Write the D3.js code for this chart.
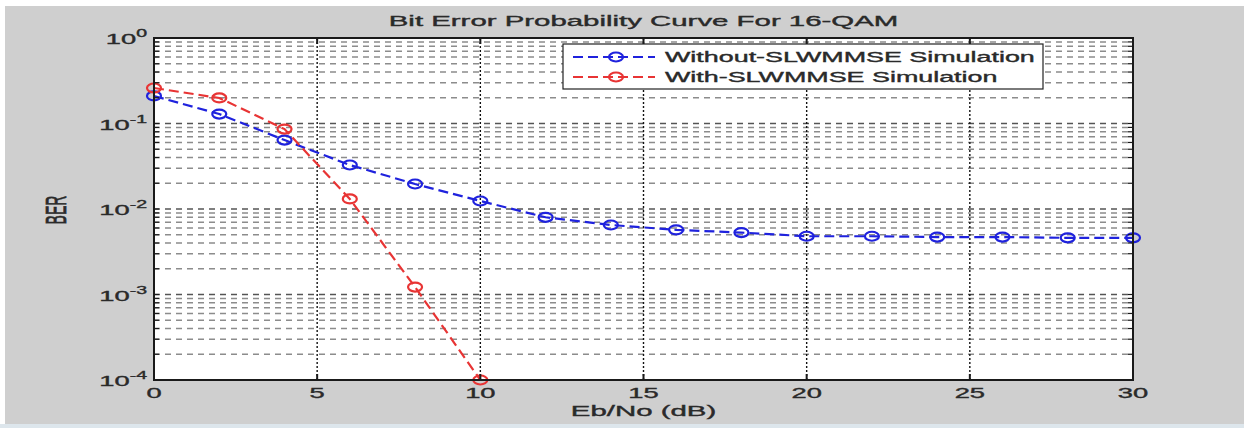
<!DOCTYPE html>
<html>
<head>
<meta charset="utf-8">
<script src="https://cdn.jsdelivr.net/npm/d3@7"></script>
<style>
	body { margin: 0; background: #fff; }
	text { font-family: "Liberation Sans", Arial, sans-serif; fill: #2a2a2a; stroke: #2a2a2a; stroke-width: 0.35; }
</style>
</head>
<body>
<svg id="chart" width="1244" height="428"></svg>
<script>
/*=================================
	DATA
**===============================*/

var snrDb = [0, 2, 4, 6, 8, 10, 12, 14, 16, 18, 20, 22, 24, 26, 28, 30];
var berWithout = [0.21, 0.129, 0.064, 0.0327, 0.0196, 0.0124, 0.0080, 0.0065,
	0.0057, 0.0053, 0.0048, 0.0048, 0.0047, 0.0047, 0.0046, 0.0046];
var snrWith = [0, 2, 4, 6, 8, 10];
var berWith = [0.26, 0.199, 0.086, 0.0131, 0.00122, 0.0001];

var xTicks = [0, 5, 10, 15, 20, 25, 30];
var yDecades = [0, -1, -2, -3, -4];
var seriesNames = ["Without-SLWMMSE Simulation", "With-SLWMMSE Simulation"];
var seriesColors = ["#1f22dd", "#e83434"];
var titleText = "Bit Error Probability Curve For 16-QAM";

/*=================================
	LAYOUT
**===============================*/

var W = 1244, H = 428;
var plot = {left: 154, right: 1133, top: 38, bottom: 380};
var SX = 2.1; // the picture is stretched sideways, text too
var SX_LEG = 1.92;

var svg = d3.select("#chart");

var x = d3.scaleLinear().domain([0, 30]).range([plot.left, plot.right]);
var y = d3.scaleLog().domain([1e-4, 1]).range([plot.bottom, plot.top]);

//Figure background
svg.append("rect").attr("x", 5).attr("y", 6).attr("width", W - 5).attr("height", 418).attr("fill", "#cfcfcf");
svg.append("rect").attr("x", 0).attr("y", 424).attr("width", W).attr("height", 4).attr("fill", "#dde6ec");

//Axes area
svg.append("rect")
	.attr("x", plot.left).attr("y", plot.top)
	.attr("width", plot.right - plot.left).attr("height", plot.bottom - plot.top)
	.attr("fill", "#fff");

/*=================================
	GRID
**===============================*/

var minorVals = [];
yDecades.slice(0, -1).forEach(function(d) {
	for (var k = 2; k <= 9; k++) minorVals.push(k * Math.pow(10, d - 1));
});
var majorVals = yDecades.slice(1, -1).map(function(d) { return Math.pow(10, d); });

var grid = svg.append("g");

grid.selectAll(".minor").data(minorVals).enter().append("line")
	.attr("x1", plot.left).attr("x2", plot.right)
	.attr("y1", function(d) { return y(d); }).attr("y2", function(d) { return y(d); })
	.attr("stroke", "#8c8c8c").attr("stroke-width", 1.5)
	.attr("stroke-dasharray", "6,5");

grid.selectAll(".major").data(majorVals).enter().append("line")
	.attr("x1", plot.left).attr("x2", plot.right)
	.attr("y1", function(d) { return y(d); }).attr("y2", function(d) { return y(d); })
	.attr("stroke", "#555").attr("stroke-width", 1.5)
	.attr("stroke-dasharray", "6,5");

grid.selectAll(".vgrid").data(xTicks.slice(1, -1)).enter().append("line")
	.attr("x1", function(d) { return x(d); }).attr("x2", function(d) { return x(d); })
	.attr("y1", plot.top).attr("y2", plot.bottom)
	.attr("stroke", "#111").attr("stroke-width", 1.4)
	.attr("stroke-dasharray", "2,2");

/*=================================
	SERIES
**===============================*/

function drawSeries(xs, ys, color) {
	var pts = xs.map(function(v, i) { return [x(v), y(ys[i])]; });
	var g = svg.append("g");
	g.append("path")
		.attr("d", d3.line()(pts))
		.attr("fill", "none")
		.attr("stroke", color).attr("stroke-width", 2.2)
		.attr("stroke-dasharray", "10,5");
	g.selectAll("ellipse").data(pts).enter().append("ellipse")
		.attr("cx", function(p) { return p[0]; }).attr("cy", function(p) { return p[1]; })
		.attr("rx", 7).attr("ry", 4.5)
		.attr("fill", "none").attr("stroke", color).attr("stroke-width", 2.2);
}

drawSeries(snrDb, berWithout, seriesColors[0]);
drawSeries(snrWith, berWith, seriesColors[1]);

/*=================================
	AXES FRAME + TICKS
**===============================*/

var frame = svg.append("g").attr("stroke", "#1a1a1a");

//inner ticks left/right for every log tick
minorVals.concat(majorVals).forEach(function(v) {
	frame.append("line").attr("x1", plot.left).attr("x2", plot.left + 5)
		.attr("y1", y(v)).attr("y2", y(v)).attr("stroke-width", 1.2);
	frame.append("line").attr("x1", plot.right).attr("x2", plot.right - 5)
		.attr("y1", y(v)).attr("y2", y(v)).attr("stroke-width", 1.2);
});
xTicks.forEach(function(v) {
	frame.append("line").attr("x1", x(v)).attr("x2", x(v))
		.attr("y1", plot.bottom).attr("y2", plot.bottom - 6).attr("stroke-width", 2);
	frame.append("line").attr("x1", x(v)).attr("x2", x(v))
		.attr("y1", plot.top).attr("y2", plot.top + 6).attr("stroke-width", 2);
});

frame.append("rect")
	.attr("x", plot.left).attr("y", plot.top)
	.attr("width", plot.right - plot.left).attr("height", plot.bottom - plot.top)
	.attr("fill", "none").attr("stroke-width", 2);

/*=================================
	TEXT
**===============================*/

function stretchText(px, py, anchor, size, sx) {
	return svg.append("text")
		.attr("transform", "translate(" + px + "," + py + ") scale(" + (sx || SX) + ",1)")
		.attr("text-anchor", anchor)
		.attr("font-size", size);
}

//x tick labels
xTicks.forEach(function(v) {
	stretchText(x(v), 398, "middle", 14, 1.95).text(v);
});

//y tick labels as 10^n
yDecades.forEach(function(d) {
	var t = stretchText(147, y(Math.pow(10, d)) + 6, "end", 14, 1.95);
	t.append("tspan").text("10");
	t.append("tspan").attr("dy", -7).attr("font-size", 10).text(d);
});

//titles
stretchText((plot.left + plot.right) / 2, 26, "middle", 14).text(titleText);
stretchText((plot.left + plot.right) / 2, 416, "middle", 14).text("Eb/No (dB)");
svg.append("text")
	.attr("transform", "translate(66,210) scale(" + SX + ",1) rotate(-90)")
	.attr("text-anchor", "middle").attr("font-size", 14)
	.text("BER");

/*=================================
	LEGEND
**===============================*/

var legend = svg.append("g");
legend.append("rect")
	.attr("x", 563).attr("y", 44).attr("width", 480).attr("height", 45)
	.attr("fill", "#fff").attr("stroke", "#222").attr("stroke-width", 1.2);

seriesNames.forEach(function(name, i) {
	var ly = 57 + i * 20;
	legend.append("line")
		.attr("x1", 573).attr("x2", 655).attr("y1", ly).attr("y2", ly)
		.attr("stroke", seriesColors[i]).attr("stroke-width", 2.2)
		.attr("stroke-dasharray", "10,5");
	legend.append("ellipse")
		.attr("cx", 616).attr("cy", ly).attr("rx", 7).attr("ry", 4.5)
		.attr("fill", "none").attr("stroke", seriesColors[i]).attr("stroke-width", 2.2);
	stretchText(665, ly + 5, "start", 14, SX_LEG).text(name);
});
</script>
</body>
</html>
